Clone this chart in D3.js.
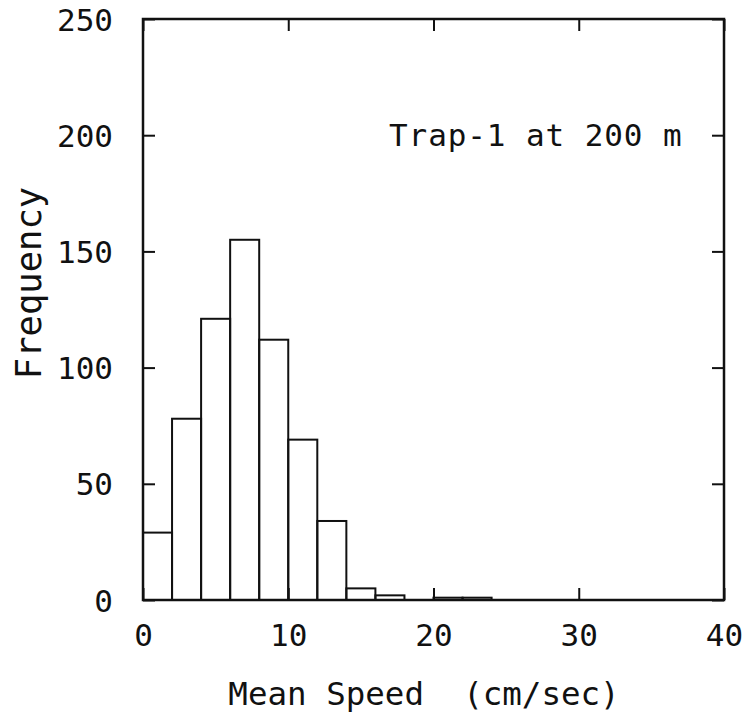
<!DOCTYPE html>
<html><head><meta charset="utf-8">
<script src="https://cdn.jsdelivr.net/npm/d3@7"></script>
<style>body{margin:0;background:#fff}svg{display:block}text{font-family:"DejaVu Sans Mono",monospace;fill:#111;white-space:pre}</style>
</head><body><svg id="c" width="746" height="713"></svg>
<script>
const binStarts = [0,2,4,6,8,10,12,14,16,18,20,22,24];
const frequency = [29,78,121,155,112,69,34,5,2,0,1,1,0];
const binWidth = 2;
const xTicks = [0,10,20,30,40];
const yTicks = [0,50,100,150,200,250];
const annotation = "Trap-1 at 200 m";

const svg = d3.select("#c");
const m = {l:143, r:724, t:19, b:600};
const x = d3.scaleLinear().domain([0,40]).range([m.l,m.r]);
const y = d3.scaleLinear().domain([0,250]).range([m.b,m.t]);
const ink = "#111";

// bars
svg.append("g").selectAll("rect").data(binStarts.map((s,i)=>({s,v:frequency[i]})).filter(d=>d.v>0))
 .join("rect")
 .attr("x",d=>x(d.s)).attr("width",d=>x(d.s+binWidth)-x(d.s))
 .attr("y",d=>y(d.v)).attr("height",d=>y(0)-y(d.v))
 .attr("fill","none").attr("stroke",ink).attr("stroke-width",2);

// frame
svg.append("rect").attr("x",m.l).attr("y",m.t).attr("width",m.r-m.l).attr("height",m.b-m.t)
 .attr("fill","none").attr("stroke",ink).attr("stroke-width",2.5);

const tl = 12;
const axB = svg.append("g").attr("transform",`translate(0,${m.b})`)
 .call(d3.axisBottom(x).tickValues(xTicks).tickSize(-tl).tickPadding(tl+12).tickFormat(d3.format("d")));
const axT = svg.append("g").attr("transform",`translate(0,${m.t})`)
 .call(d3.axisTop(x).tickValues(xTicks).tickSize(-tl).tickFormat(""));
const axL = svg.append("g").attr("transform",`translate(${m.l},0)`)
 .call(d3.axisLeft(y).tickValues(yTicks).tickSize(-tl).tickPadding(tl+18).tickFormat(d3.format("d")));
const axR = svg.append("g").attr("transform",`translate(${m.r},0)`)
 .call(d3.axisRight(y).tickValues(yTicks).tickSize(-tl).tickFormat(""));
[axB,axT,axL,axR].forEach(a=>{
  a.select(".domain").remove();
  a.selectAll("line").attr("stroke",ink).attr("stroke-width",2);
  a.selectAll("text").style("font-size","31px").attr("fill",ink).style("font-family","DejaVu Sans Mono, monospace");
});
axB.selectAll("text").attr("dy","0.71em");
axL.selectAll("text").attr("dy","0.36em");

// annotation
svg.append("text").attr("x",389).attr("y",y(200)).attr("dy","0.36em").attr("text-anchor","start")
 .style("font-size","31px").style("letter-spacing","0.9px").text(annotation);

// axis titles
svg.append("text").attr("x",424).attr("y",705).attr("text-anchor","middle")
 .style("font-size","32.5px").text("Mean Speed  (cm/sec)");
svg.append("text").attr("transform",`translate(41,283) rotate(-90)`).attr("text-anchor","middle")
 .style("font-size","35.5px").text("Frequency");
</script></body></html>
